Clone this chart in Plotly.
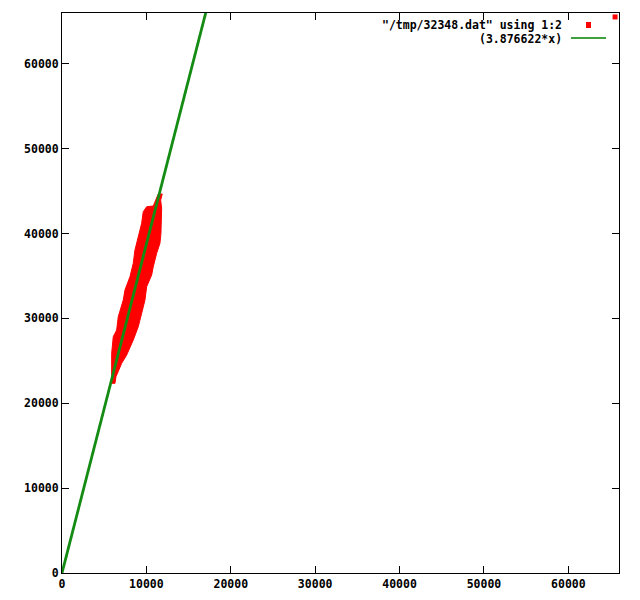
import plotly.graph_objects as go

# Outline of the dense red point cluster, data units
blob_x = [11878, 11689, 11807, 11807, 11724, 11606, 11215, 10812, 10623, 10031,
          9829, 9439, 9036, 8444, 8053, 7662, 7070, 6395, 6277,
          5886, 5886, 6075, 6478, 6667, 7260, 7461, 8053, 8444, 8645,
          9036, 9439, 9628, 10031, 10812, 11215, 11404]
blob_y = [44667, 43960, 42982, 42781, 40035, 38857, 37678, 36099, 35121, 33742,
          32174, 30607, 29028, 27460, 26671, 25692, 24714, 23135, 22357,
          22357, 25893, 27849, 28639, 30207, 32174, 33353, 34921, 36500, 38067,
          39635, 41214, 42581, 43171, 43253, 44349, 44667]

# Isolated data point at top right
pt_x = [65535]
pt_y = [65535]

fit_slope = 3.876622
fit_x = [0, 66000]
fit_y = [fit_slope * v for v in fit_x]

x_ticks = [0, 10000, 20000, 30000, 40000, 50000, 60000]
y_ticks = [0, 10000, 20000, 30000, 40000, 50000, 60000]

FONT = "DejaVu Sans Mono"

fig = go.Figure()
fig.add_trace(go.Scatter(x=blob_x + blob_x[:1], y=blob_y + blob_y[:1], mode="lines",
                         fill="toself", fillcolor="#ff0000",
                         line=dict(color="#ff0000", width=1), showlegend=False,
                         hoverinfo="skip"))
fig.add_trace(go.Scatter(x=pt_x, y=pt_y, mode="markers",
                         marker=dict(color="#ff0000", symbol="square", size=5),
                         showlegend=False))
fig.add_trace(go.Scatter(x=fit_x, y=fit_y, mode="lines",
                         line=dict(color="rgb(20,140,20)", width=2.8),
                         showlegend=False))

axis_common = dict(
    showgrid=False, zeroline=False, showline=True, linecolor="black", linewidth=1,
    mirror="ticks", ticks="inside", ticklen=7, tickcolor="black", tickwidth=1,
    tickfont=dict(family=FONT, size=11.5, color="black", weight="bold"),
    range=[0, 66000],
)
# page body has an 8px offset; plot area target: x 62..619, y 13..573
L, T, R, B = 54, 5, 29, 35
fig.update_layout(
    width=640, height=600,
    margin=dict(l=L, r=R, t=T, b=B, autoexpand=False),
    paper_bgcolor="white", plot_bgcolor="white",
    xaxis=dict(**axis_common, tickvals=x_ticks, ticktext=[str(v) for v in x_ticks]),
    yaxis=dict(**axis_common, tickvals=y_ticks, ticktext=[str(v) for v in y_ticks]),
    showlegend=False,
)

PW, PH = 557, 560
def px(xp):
    return (xp - 62) / PW
def py(yp):
    return (573 - yp) / PH

# Manual gnuplot-style key (text left, sample right)
key_font = dict(family=FONT, size=11.5, color="black", weight="bold")
fig.add_annotation(xref="paper", yref="paper", x=px(564), y=py(25),
                   xanchor="right", yanchor="middle", text='"/tmp/32348.dat" using 1:2',
                   showarrow=False, font=key_font)
fig.add_annotation(xref="paper", yref="paper", x=px(564), y=py(39),
                   xanchor="right", yanchor="middle", text="(3.876622*x)",
                   showarrow=False, font=key_font)
fig.add_shape(type="rect", xref="paper", yref="paper",
              x0=px(586), x1=px(591), y0=py(28), y1=py(22),
              fillcolor="#ff0000", line=dict(width=0))
fig.add_shape(type="line", xref="paper", yref="paper",
              x0=px(571), x1=px(606), y0=py(38), y1=py(38),
              line=dict(color="#008000", width=1.5))

fig.write_html("out.html")
